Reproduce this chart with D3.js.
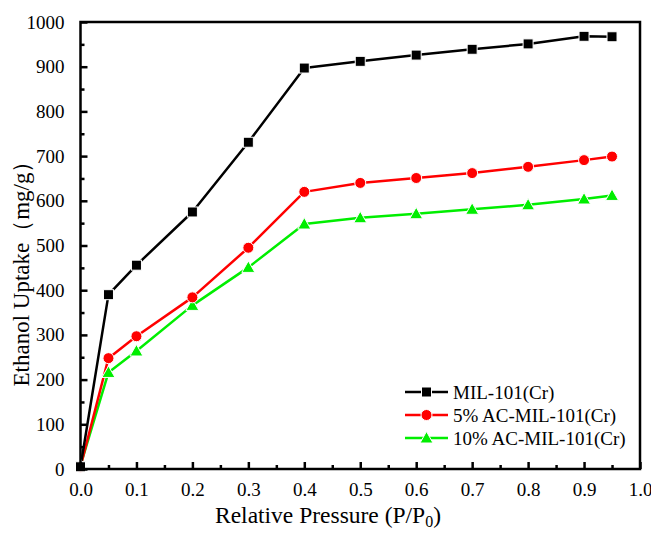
<!DOCTYPE html>
<html><head><meta charset="utf-8">
<script src="https://cdn.jsdelivr.net/npm/d3@7"></script>
<style>body{margin:0;background:#fff}svg{display:block}svg text{font-family:"Liberation Serif","Times New Roman","DejaVu Serif",serif !important}</style>
</head><body>
<script>
const pressure = [0, 0.05, 0.1, 0.2, 0.3, 0.4, 0.5, 0.6, 0.7, 0.8, 0.9, 0.95];
const mil101 = [5, 390, 456, 575, 731, 897, 912, 926, 939, 951, 968, 967];
const ac5 = [5, 248, 297, 384, 495, 620, 640, 651, 662, 676, 691, 699];
const ac10 = [8, 216, 264, 366, 451, 548, 562, 571, 581, 591, 604, 612];
const seriesNames = ["MIL-101(Cr)", "5% AC-MIL-101(Cr)", "10% AC-MIL-101(Cr)"];
const xTicks = [0, 0.1, 0.2, 0.3, 0.4, 0.5, 0.6, 0.7, 0.8, 0.9, 1.0];
const yTicks = [0, 100, 200, 300, 400, 500, 600, 700, 800, 900, 1000];

const W = 651, H = 533;
const L = 80.5, R = 640, T = 22, B = 469;
const svg = d3.select("body").append("svg").attr("width", W).attr("height", H);
const x = d3.scaleLinear().domain([0, 1]).range([L, R]);
const y = d3.scaleLinear().domain([0, 1000]).range([B, T]);

const series = [
  {name: seriesNames[0], vals: mil101, color: "#000000", shape: "square"},
  {name: seriesNames[1], vals: ac5, color: "#ff0000", shape: "circle"},
  {name: seriesNames[2], vals: ac10, color: "#00ee00", shape: "triangle"}
];

function marker(g, shape, cx, cy, color) {
  if (shape === "square") g.append("rect").attr("x", cx-5).attr("y", cy-5).attr("width", 10).attr("height", 10).attr("fill", color).attr("stroke", "#fff").attr("stroke-width", 1);
  else if (shape === "circle") g.append("circle").attr("cx", cx).attr("cy", cy).attr("r", 5.5).attr("fill", color).attr("stroke", "#fff").attr("stroke-width", 1);
  else g.append("path").attr("d", `M${cx},${cy-6.5}L${cx+6.5},${cy+5}L${cx-6.5},${cy+5}Z`).attr("fill", color).attr("stroke", "#fff").attr("stroke-width", 1);
}

const line = d3.line().x((d,i)=>x(pressure[i])).y(d=>y(d));
series.slice().reverse().forEach(s => {
  svg.append("path").datum(s.vals).attr("d", line).attr("fill", "none").attr("stroke", s.color).attr("stroke-width", 2.5).attr("stroke-linejoin", "round");
});
series.slice().reverse().forEach(s => {
  const g = svg.append("g");
  s.vals.forEach((v,i) => marker(g, s.shape, x(pressure[i]), y(v), s.color));
});

svg.append("rect").attr("x", L).attr("y", T).attr("width", R-L).attr("height", B-T).attr("fill", "none").attr("stroke", "#000").attr("stroke-width", 2.5);

const xAx = svg.append("g").attr("transform", `translate(0,${B})`)
  .call(d3.axisBottom(x).tickValues(xTicks).tickFormat(d3.format(".1f")).tickSizeInner(-7).tickSizeOuter(0).tickPadding(14));
const xMin = svg.append("g").attr("transform", `translate(0,${B})`)
  .call(d3.axisBottom(x).tickValues(d3.range(0.05, 1, 0.1)).tickFormat("").tickSizeInner(-4).tickSizeOuter(0));
const yAx = svg.append("g").attr("transform", `translate(${L},0)`)
  .call(d3.axisLeft(y).tickValues(yTicks).tickFormat(d3.format("d")).tickSizeInner(-7).tickSizeOuter(0).tickPadding(16));
const yMin = svg.append("g").attr("transform", `translate(${L},0)`)
  .call(d3.axisLeft(y).tickValues(d3.range(50, 1000, 100)).tickFormat("").tickSizeInner(-4).tickSizeOuter(0));
[xAx, xMin, yAx, yMin].forEach(a => {
  a.attr("font-family", null).attr("font-size", null);
  a.select(".domain").remove();
  a.selectAll("line").attr("stroke", "#000").attr("stroke-width", 2.5);
  a.selectAll("text").attr("font-size", 19).attr("fill", "#000");
});
xAx.selectAll("text").attr("dy", "0.71em");

const xt = svg.append("text").attr("x", 328).attr("y", 523).attr("text-anchor", "middle")
  .attr("font-size", 23.5).attr("fill", "#000");
xt.append("tspan").text("Relative Pressure (P/P");
xt.append("tspan").attr("font-size", 16).attr("dy", 4).text("0");
xt.append("tspan").attr("dy", -4).text(")");
svg.append("text").attr("transform", "translate(29,268) rotate(-90)").attr("text-anchor", "middle")
  .attr("font-size", 23).attr("fill", "#000").text("Ethanol Uptake（mg/g）");

const legYs = [392, 415, 438];
series.forEach((s, i) => {
  const ly = legYs[i];
  svg.append("line").attr("x1", 405).attr("x2", 448).attr("y1", ly).attr("y2", ly).attr("stroke", s.color).attr("stroke-width", 2.5);
  marker(svg, s.shape, 426.5, ly, s.color);
  svg.append("text").attr("x", 453).attr("y", ly).attr("dy", "0.35em").attr("font-size", 19).attr("fill", "#000").text(s.name);
});
</script>
</body></html>
